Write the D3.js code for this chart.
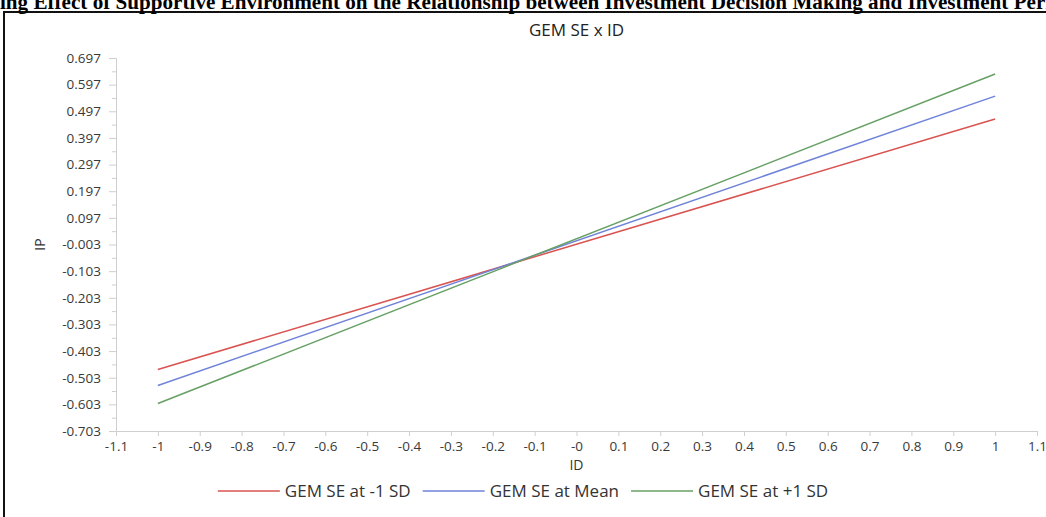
<!DOCTYPE html>
<html>
<head>
<meta charset="utf-8">
<script src="https://cdn.jsdelivr.net/npm/d3@7"></script>
<style>
  html, body { margin: 0; padding: 0; background: #fff; overflow: hidden; }
  svg { display: block; }
</style>
</head>
<body>
<svg id="chart" width="1046" height="517"></svg>
<script>
// ---------- data ----------
const pageTitle = "Figure 2: Moderating Effect of Supportive Environment on the Relationship between Investment Decision Making and Investment Performance";
const pageTitleHiddenPrefix = "Figure 2: Moderat";
const pageTitleVisible = "ing Effect of Supportive Environment on the Relationship between Investment Decision Making and Investment Per";
const chartTitle = "GEM SE x ID";
const xLabel = "ID";
const yLabel = "IP";
const xValues = [-1, 1];
const seriesNames = ["GEM SE at -1 SD", "GEM SE at Mean", "GEM SE at +1 SD"];
const lowSD = [-0.472, 0.468];
const meanSD = [-0.532, 0.554];
const highSD = [-0.600, 0.637];
const seriesColors = ["#d9534f", "#6f83d8", "#67a064"];
const xTicks = [-1.1, -1, -0.9, -0.8, -0.7, -0.6, -0.5, -0.4, -0.3, -0.2, -0.1, 0, 0.1, 0.2, 0.3, 0.4, 0.5, 0.6, 0.7, 0.8, 0.9, 1, 1.1];
const xTickLabels = ["-1.1", "-1", "-0.9", "-0.8", "-0.7", "-0.6", "-0.5", "-0.4", "-0.3", "-0.2", "-0.1", "-0", "0.1", "0.2", "0.3", "0.4", "0.5", "0.6", "0.7", "0.8", "0.9", "1", "1.1"];
const yTicks = [-0.703, -0.603, -0.503, -0.403, -0.303, -0.203, -0.103, -0.003, 0.097, 0.197, 0.297, 0.397, 0.497, 0.597, 0.697];
const yTickLabels = ["-0.703", "-0.603", "-0.503", "-0.403", "-0.303", "-0.203", "-0.103", "-0.003", "0.097", "0.197", "0.297", "0.397", "0.497", "0.597", "0.697"];
const yMinorTicks = [-0.653, -0.553, -0.453, -0.353, -0.253, -0.153, -0.053, 0.047, 0.147, 0.247, 0.347, 0.447, 0.547, 0.647];

const series = [lowSD, meanSD, highSD].map((vals, i) => ({
  name: seriesNames[i], color: seriesColors[i],
  points: xValues.map((x, j) => ({ x: x, y: vals[j] }))
}));

// ---------- layout ----------
const svg = d3.select("#chart");
const plot = { left: 116, right: 1037, top: 58, bottom: 431 };
const sansFont = "'Open Sans', 'Noto Sans', sans-serif";

const x = d3.scaleLinear().domain([-1.1, 1.1]).range([plot.left, plot.right]);
const y = d3.scaleLinear().domain([-0.703, 0.697]).range([plot.bottom, plot.top]);

// frame
svg.append("rect").attr("x", 4).attr("y", 12).attr("width", 1100).attr("height", 600)
  .attr("fill", "none").attr("stroke", "#111").attr("stroke-width", 2);

// page title (clipped at the edges, as in the reference)
const tFont = "bold 16px 'Liberation Serif', 'Times New Roman', serif";
const meas = svg.append("text").style("font", tFont).text(pageTitleVisible);
const visW = meas.node().getComputedTextLength();
meas.text(pageTitleHiddenPrefix);
const fontSize = 16 * 1046 / visW;
meas.style("font-size", fontSize + "px");
const prefixW = meas.node().getComputedTextLength();
meas.remove();
svg.append("text").attr("x", -prefixW).attr("y", 9)
  .style("font", tFont).style("font-size", fontSize + "px").attr("fill", "#000")
  .text(pageTitle);

// chart title
svg.append("text").attr("x", (plot.left + plot.right) / 2).attr("y", 36)
  .attr("text-anchor", "middle").style("font-family", sansFont).style("font-size", "17px")
  .attr("fill", "#222").text(chartTitle);

// axes
const axisColor = "#cfcfcf";
const tickFont = "13.5px";
const xAxis = d3.axisBottom(x).tickValues(xTicks).tickSize(5)
  .tickFormat((d, i) => xTickLabels[i]);
const gx = svg.append("g").attr("transform", `translate(0,${plot.bottom})`).call(xAxis);
gx.select(".domain").attr("stroke", axisColor);
gx.selectAll(".tick line").attr("stroke", axisColor);
gx.selectAll(".tick text").attr("dy", "0").attr("y", 20).attr("fill", "#3a3a3a")
  .style("font-family", sansFont).style("font-size", tickFont);

const yAxis = d3.axisLeft(y).tickValues(yTicks).tickSize(7)
  .tickFormat((d, i) => yTickLabels[i]);
const gy = svg.append("g").attr("transform", `translate(${plot.left},0)`).call(yAxis);
gy.select(".domain").attr("stroke", axisColor);
gy.selectAll(".tick line").attr("stroke", axisColor);
gy.selectAll(".tick text").attr("x", -15).attr("fill", "#3a3a3a")
  .style("font-family", sansFont).style("font-size", tickFont);

const yMinor = d3.axisLeft(y).tickValues(yMinorTicks).tickSize(4).tickFormat("");
const gym = svg.append("g").attr("transform", `translate(${plot.left},0)`).call(yMinor);
gym.select(".domain").remove();
gym.selectAll(".tick line").attr("stroke", axisColor);

// axis titles
svg.append("text").attr("x", (plot.left + plot.right) / 2).attr("y", 470)
  .attr("text-anchor", "middle").style("font-family", sansFont).style("font-size", "14px")
  .attr("fill", "#333").text(xLabel);
svg.append("text").attr("transform", `translate(45,${y(-0.003)}) rotate(-90)`)
  .attr("text-anchor", "middle").style("font-family", sansFont).style("font-size", "14px")
  .attr("fill", "#333").text(yLabel);

// lines
const line = d3.line().x(d => x(d.x)).y(d => y(d.y));
svg.append("g").selectAll("path").data(series).join("path")
  .attr("d", d => line(d.points)).attr("fill", "none")
  .attr("stroke", d => d.color).attr("stroke-width", 1.5);

// legend
const legend = svg.append("g");
const swatchLen = 62, gapAfterSwatch = 5, gapBetween = 12;
let cx = 0;
series.forEach(s => {
  legend.append("line").attr("x1", cx).attr("x2", cx + swatchLen).attr("y1", 0).attr("y2", 0)
    .attr("stroke", s.color).attr("stroke-width", 1.5);
  cx += swatchLen + gapAfterSwatch;
  const t = legend.append("text").attr("x", cx).attr("y", 5.5)
    .style("font-family", sansFont).style("font-size", "17px").attr("fill", "#333").text(s.name);
  cx += t.node().getComputedTextLength() + gapBetween;
});
const legendW = cx - gapBetween;
legend.attr("transform", `translate(${523 - legendW / 2},491)`);
</script>
</body>
</html>
